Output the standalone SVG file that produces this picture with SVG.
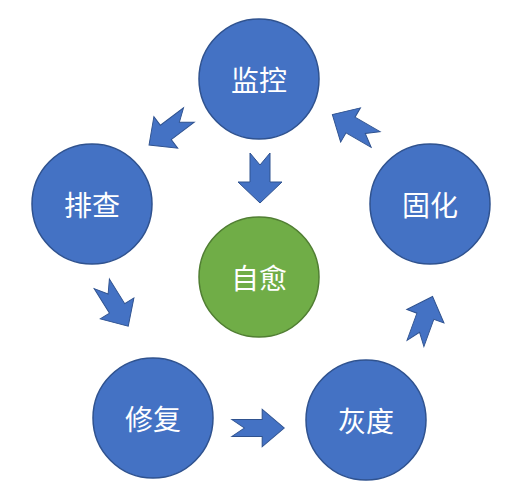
<svg xmlns="http://www.w3.org/2000/svg" width="508" height="498" viewBox="0 0 508 498">
<style>
.n{fill:#4472C4;stroke:#2F528F;stroke-width:1.5}
.g{fill:#70AD47;stroke:#507E32;stroke-width:1.5}
.t{font-family:"Noto Sans CJK SC","Noto Sans",sans-serif;font-size:28px;fill:#fff;text-anchor:middle;dominant-baseline:central}
.a{fill:#4472C4;stroke:#2F528F;stroke-width:1}
</style>
<defs>
<path id="arr" d="M-25,-10 L4,-10 L4,-22 L25,0 L4,22 L4,10 L-25,10 L-13,0 Z"/>
</defs>
<rect width="508" height="498" fill="#fff"/>
<g id="connectors">
<use href="#arr" class="a" transform="translate(260,178) rotate(90)"/>
<use href="#arr" class="a" transform="translate(258,428) scale(1.05,0.85)"/>
<use href="#arr" class="a" transform="translate(169,130) rotate(143) scale(1,0.9)"/>
<use href="#arr" class="a" transform="translate(354,127) rotate(210) scale(1,0.9)"/>
<use href="#arr" class="a" transform="translate(115,305) rotate(58) scale(1,0.9)"/>
<use href="#arr" class="a" transform="translate(424,320) rotate(-70) scale(1,0.9)"/>
</g>
<g id="jiankong"><circle class="n" cx="259" cy="79" r="60"/><text class="t" x="259" y="79">监控</text></g>
<g id="paicha"><circle class="n" cx="92" cy="204" r="60"/><text class="t" x="92" y="204">排查</text></g>
<g id="guhua"><circle class="n" cx="430" cy="204" r="60"/><text class="t" x="430" y="204">固化</text></g>
<g id="ziyu"><circle class="g" cx="259" cy="277" r="60"/><text class="t" x="259" y="277">自愈</text></g>
<g id="xiufu"><circle class="n" cx="153" cy="418" r="60"/><text class="t" x="153" y="418">修复</text></g>
<g id="huidu"><circle class="n" cx="366" cy="420" r="60"/><text class="t" x="366" y="420">灰度</text></g>
</svg>
